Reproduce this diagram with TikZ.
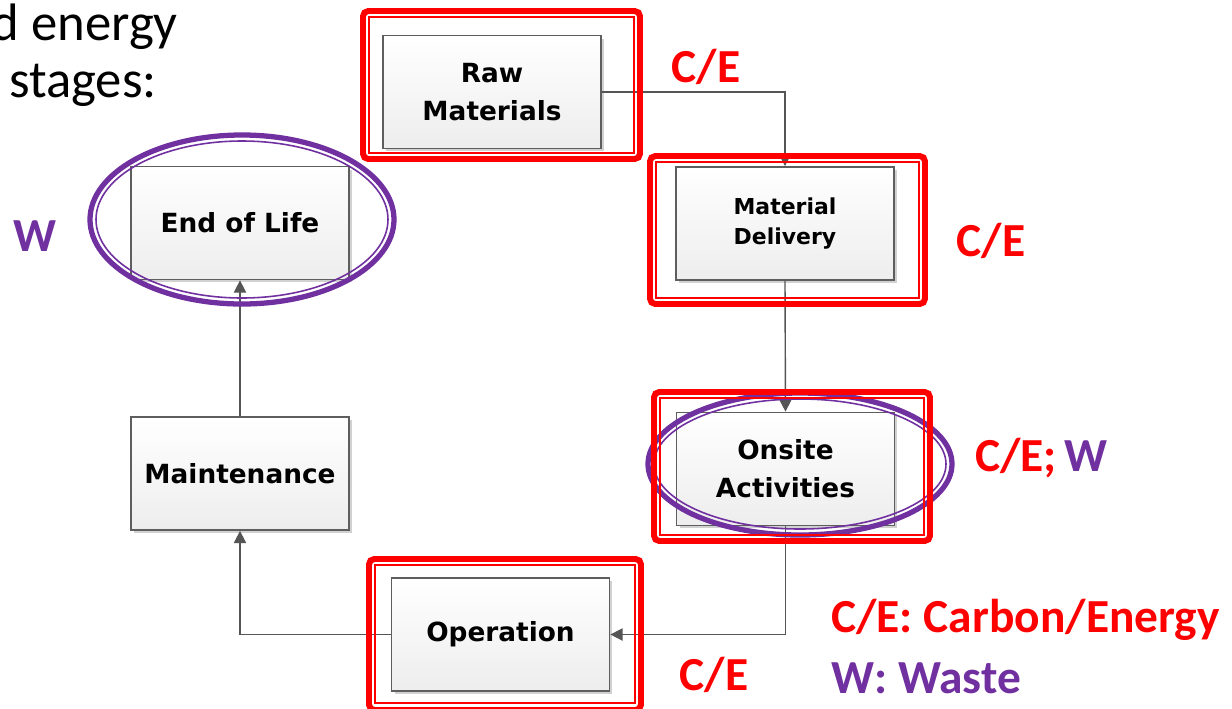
\documentclass[tikz,border=0pt]{standalone}
\usepackage{fontspec}
\setmainfont{Carlito}
\newfontfamily\boxfont{DejaVu Sans}
\usetikzlibrary{arrows.meta,shadows}
\definecolor{cered}{HTML}{FF0000}
\definecolor{wpurple}{HTML}{7030A0}
\definecolor{linegray}{HTML}{555555}
\definecolor{boxedge}{HTML}{5E5E5E}
\tikzset{
  stage/.style={draw=boxedge, line width=1pt, top color=white, bottom color=black!7,
    minimum width=4.36cm, minimum height=2.26cm, align=center, inner sep=0pt,
    font=\boxfont\bfseries\fontsize{15}{21.5}\selectfont,
    drop shadow={shadow xshift=0.06cm, shadow yshift=-0.06cm, opacity=0.18, fill=black}},
  conn/.style={draw=linegray, line width=0.8pt, -{Triangle[width=7pt,length=7pt]}},
  frameouter/.style={draw=cered, line width=3.4pt, rounded corners=3pt},
  frameinner/.style={draw=cered, line width=0.9pt},
  ellouter/.style={draw=wpurple, line width=3pt},
  ellinner/.style={draw=wpurple, line width=0.9pt},
  celabel/.style={text=cered, font=\bfseries\fontsize{27}{30}\selectfont, inner sep=0pt},
  wlabel/.style={text=wpurple, font=\bfseries\fontsize{27}{30}\selectfont, inner sep=0pt},
  plain/.style={font=\fontsize{30}{34}\selectfont, inner sep=0pt, anchor=base east}
}
\begin{document}
\begin{tikzpicture}[x=0.02cm, y=-0.02cm]
\useasboundingbox (0,0) rectangle (1232,708);
% top-left text
\node[plain] (t1) at (178,40) {d energy};
\node[plain] (t2) at (157,97) {stages:};
% stages
\node[stage] (raw) at (492,92) {Raw\\Materials};
\node[stage, font=\boxfont\bfseries\fontsize{12.5}{17.5}\selectfont] (md) at (785,223.5) {Material\\Delivery};
\node[stage] (oa) at (785.5,469) {Onsite\\Activities};
\node[stage] (op) at (500.5,634.5) {Operation};
\node[stage] (mt) at (240,473.5) {Maintenance};
\node[stage] (eol) at (240,223) {End of Life};
% connectors
\draw[conn] (raw.east) -| (md.north);
\draw[conn] (md.south) -- (oa.north);
\draw[conn] (oa.south) |- (op.east);
\draw[conn] (op.west) -| (mt.south);
\draw[conn] (mt.north) -- (mt.north |- eol.south);
% purple ellipses
\draw[ellouter] (242,219.5) ellipse [x radius=152, y radius=84.5];
\draw[ellinner] (242,219.5) ellipse [x radius=146, y radius=78.5];
\draw[ellouter] (800,464) ellipse [x radius=152, y radius=71];
\draw[ellinner] (800,464) ellipse [x radius=146, y radius=65];
% red frames
\draw[frameouter] (363,11) rectangle (640,159);
\draw[frameinner] (369,17) rectangle (634,153);
\draw[frameouter] (650,156) rectangle (925,304);
\draw[frameinner] (656,162) rectangle (919,298);
\draw[frameouter] (654,392) rectangle (930,541);
\draw[frameinner] (660,398) rectangle (924,535);
\draw[frameouter] (369,559) rectangle (641,710);
\draw[frameinner] (375,565) rectangle (635,703);
% labels
\node[celabel] (l1) at (706,67) {C/E};
\node[celabel] (l2) at (991,241) {C/E};
\node[celabel, anchor=west] (l3) at (975,458) {C/E;\,\textcolor{wpurple}{W}};
\node[celabel] (l4) at (714,675) {C/E};
\node[wlabel] (l5) at (35,236) {W};
\node[celabel, anchor=west] (lg1) at (831,620) {C/E: Carbon/Energy};
\node[wlabel, anchor=west] (lg2) at (831,678) {W: Waste};
\end{tikzpicture}
\end{document}
